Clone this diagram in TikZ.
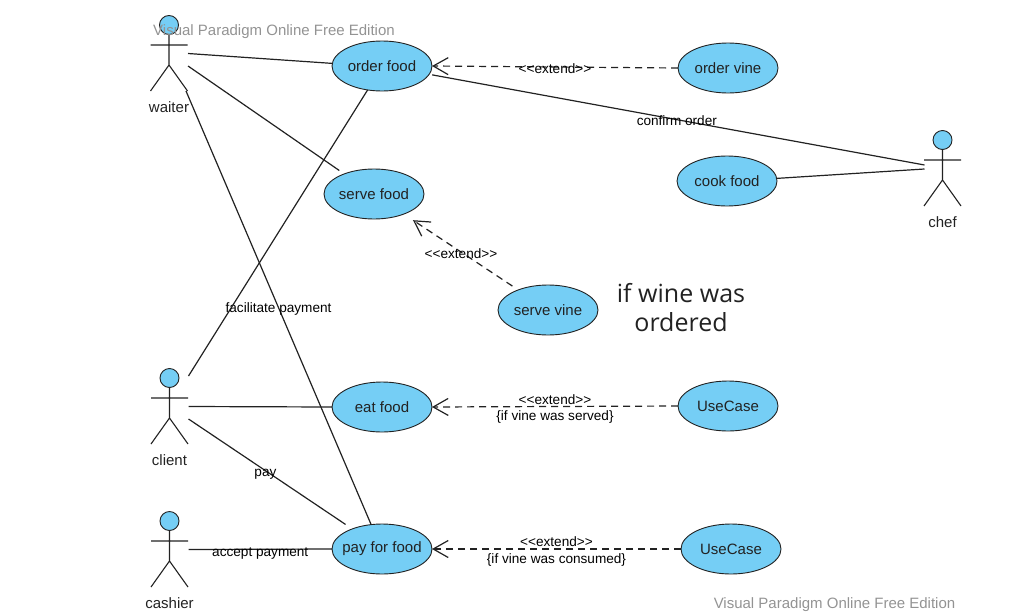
\documentclass[tikz,border=0pt]{standalone}
\usepackage{fontspec}
\setmainfont{Liberation Sans}
\newfontfamily\notefont{Open Sans}
\usetikzlibrary{arrows.meta, shapes.geometric}
\definecolor{caseblue}{HTML}{75CEF5}
\definecolor{inkgray}{HTML}{222222}
\tikzset{
    usecase/.style={ellipse, draw=inkgray, fill=caseblue, line width=0.9pt, minimum width=100pt, minimum height=50pt, inner xsep=-15pt, inner ysep=0pt, outer sep=0pt, text=inkgray, font=\fontsize{15}{17}\selectfont},
    assoc/.style={draw=inkgray, line width=1.2pt},
    extendline/.style={draw=inkgray, line width=1.2pt, dashed, dash pattern=on 7pt off 5pt, -{Straight Barb[length=15pt, width=17pt, line width=1.2pt]}},
    tag/.style={font=\fontsize{13.6}{15}\selectfont, text=black, inner sep=0pt, yshift=-1.5pt},
    mark text/.style={font=\fontsize{15}{17}\selectfont, text=gray!85, inner sep=0pt},
    pics/actor/.style={code={
        \draw[inkgray, line width=1.1pt] (0,10) -- (0,40) (-18.5,20) -- (18.5,20) (-18.5,66) -- (0,40) -- (18.5,66);
        \node[circle, draw=inkgray, fill=caseblue, line width=0.9pt, minimum size=19pt, inner sep=0pt] (-head) at (0,0) {};
        \node[font=\fontsize{15}{17}\selectfont, text=inkgray, inner sep=0pt] (-name) at (0,82) {#1};
        \coordinate (-right1) at (19,28.5);
        \coordinate (-right2) at (19,41);
        \coordinate (-top) at (19,-2);
        \coordinate (-foot) at (17,66);
        \coordinate (-left1) at (-18,29);
        \coordinate (-left2) at (-18,25);
    }}
}
\begin{document}
\begin{tikzpicture}[x=1pt, y=-1pt]
    \useasboundingbox (0,0) rectangle (1016,613);

    \pic (waiter) at (169,25) {actor={waiter}};
    \pic (client) at (169.5,378) {actor={client}};
    \pic (cashier) at (169.5,521) {actor={cashier}};
    \pic (chef) at (942.5,140) {actor={chef}};

    \node[usecase] (orderfood) at (382,66) {order food};
    \node[usecase] (servefood) at (374,194) {serve food};
    \node[usecase] (eatfood) at (382,407) {eat food};
    \node[usecase] (payfood) at (382,549) {pay for food};
    \node[usecase] (ordervine) at (728,68) {order vine};
    \node[usecase] (cookfood) at (727,181) {cook food};
    \node[usecase] (servevine) at (548,310) {serve vine};
    \node[usecase] (usecaseA) at (728,406) {UseCase};
    \node[usecase] (usecaseB) at (731,549) {UseCase};

    % associations
    \path[assoc] (waiter-right1) -- (orderfood.177);
    \path[assoc, shorten >=6pt] (waiter-right2) -- (servefood.146);
    \path[assoc] (waiter-foot) -- node[tag] {facilitate payment} (payfood.114);
    \path[assoc] (client-top) -- (orderfood.-121);
    \path[assoc] (client-right1) -- (eatfood.west);
    \path[assoc, shorten >=8pt] (client-right2) -- node[tag, pos=0.47, yshift=-2pt] {pay} (payfood.146);
    \path[assoc] (cashier-right1) -- node[tag, yshift=-2.5pt] {accept payment} (payfood.west);
    \path[assoc, shorten <=3pt] (orderfood.-10) -- node[tag, yshift=1pt] {confirm order} (chef-left2);
    \path[assoc] (cookfood.3) -- (chef-left1);

    % extends
    \path[extendline] (ordervine.west) -- node[tag] {<{}<extend>{}>} (orderfood.east);
    \path[extendline, shorten <=7pt, shorten >=11pt] (servevine.146) -- node[tag] {<{}<extend>{}>} (servefood.-34);
    \path[extendline] (usecaseA.west) -- node[tag, yshift=8.5pt] {<{}<extend>{}>} node[tag, yshift=-9pt] {\{if vine was served\}} (eatfood.east);
    \path[extendline] (usecaseB.west) -- node[tag, yshift=8.5pt] {<{}<extend>{}>} node[tag, yshift=-9pt] {\{if vine was consumed\}} (payfood.east);

    \node[font=\notefont\fontsize{25}{29}\selectfont, text=inkgray, align=center, inner sep=0pt] (winenote) at (681,307.5) {if wine was\\ordered};

    \node[mark text] (markA) at (274,32) {Visual Paradigm Online Free Edition};
    \node[mark text] (markB) at (834.5,605) {Visual Paradigm Online Free Edition};
\end{tikzpicture}
\end{document}
